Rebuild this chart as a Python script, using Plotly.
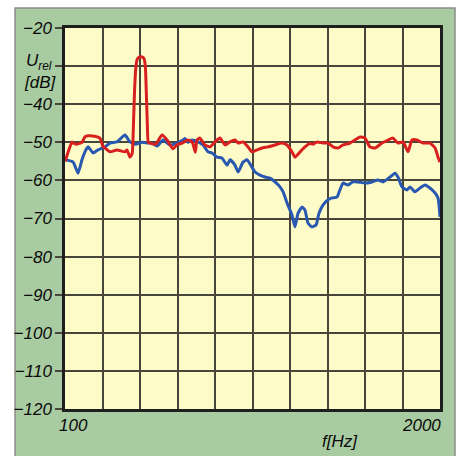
import plotly.graph_objects as go

# frequency axis (Hz) and grid
x_min, x_max = 100, 2000
y_min, y_max = -120, -20
x_step = 190
x_labels = {100: "100", 2000: "2000"}
y_ticks = [-120, -110, -100, -90, -80, -70, -60, -50, -40, -20]
y_labels = ["\u2212" + str(abs(v)) for v in y_ticks]
y_unlabeled = [-30]

red_f = [100, 110, 135, 141, 160, 186, 201, 217, 250, 277, 293, 303, 328, 363, 404, 414, 429,
         440, 447, 452, 458, 465, 475, 490, 500, 507, 512, 517, 522, 531, 560, 591, 617, 647, 667,
         693, 723, 743, 749, 760, 769, 784, 809, 835, 860, 885, 911, 936, 961, 977, 1002,
         1027, 1047, 1073, 1098, 1128, 1164, 1199, 1225, 1250, 1265, 1291, 1316, 1341, 1357,
         1377, 1407, 1433, 1458, 1483, 1509, 1544, 1569, 1595, 1620, 1645, 1671, 1706, 1737,
         1762, 1787, 1813, 1838, 1858, 1883, 1914, 1949, 1975, 1990, 2000]
red_db = [-55.0, -53.5, -49.9, -50.2, -50.5, -50.0, -48.6, -48.3, -48.4, -48.9, -51.2, -51.5,
          -52.5, -52.0, -52.5, -52.0, -53.9, -53.0, -45.0, -37.0, -31.0, -28.3, -27.7, -27.6,
          -28.0, -30.0, -37.0, -45.0, -50.0, -50.2, -50.5, -48.1, -49.4, -51.7, -50.7, -50.2, -49.4,
          -49.9, -50.5, -52.6, -49.4, -48.9, -50.7, -51.2, -49.9, -48.9, -50.7, -49.9, -49.4,
          -50.2, -49.9, -51.2, -52.5, -52.0, -51.5, -51.2, -50.7, -50.2, -50.7, -52.5, -53.9,
          -52.5, -51.2, -50.3, -50.5, -49.9, -50.2, -50.2, -51.2, -51.5, -50.7, -50.2, -49.4,
          -48.6, -48.9, -51.2, -51.5, -50.2, -49.4, -48.9, -50.2, -49.9, -52.5, -49.4, -49.4,
          -50.2, -50.2, -51.5, -53.9, -55.2]

blue_f = [100, 141, 166, 186, 201, 217, 242, 267, 303, 328, 363, 404, 429, 460, 490, 520, 541,
          566, 597, 632, 667, 698, 708, 723, 743, 774, 799, 825, 845, 870, 895, 921, 936, 961,
          977, 1002, 1022, 1047, 1063, 1088, 1113, 1139, 1164, 1189, 1205, 1225, 1250, 1265,
          1281, 1301, 1316, 1331, 1351, 1372, 1387, 1407, 1433, 1453, 1478, 1493, 1509, 1534,
          1559, 1585, 1620, 1656, 1686, 1711, 1747, 1772, 1787, 1807, 1833, 1848, 1873, 1899,
          1924, 1949, 1975, 1990, 2000]
blue_db = [-54.6, -55.2, -58.1, -54.6, -52.5, -51.2, -52.8, -52.0, -51.2, -50.2, -49.9, -48.1,
           -49.9, -50.5, -50.0, -50.2, -50.2, -51.0, -49.4, -50.7, -50.2, -49.4, -49.0, -50.0,
           -49.4, -49.9, -50.7, -52.5, -52.8, -53.9, -54.1, -56.0, -54.6, -56.0, -57.8, -55.2,
           -54.6, -56.5, -57.8, -58.6, -59.1, -59.4, -60.4, -61.7, -63.0, -65.9, -69.1, -72.2,
           -68.6, -67.0, -67.8, -71.2, -72.2, -71.7, -68.6, -66.5, -65.1, -64.6, -64.4, -62.5,
           -60.7, -61.2, -60.4, -60.4, -60.7, -60.4, -59.9, -60.4, -59.1, -58.1, -59.1, -61.7,
           -62.5, -61.7, -63.0, -62.0, -61.2, -62.0, -63.3, -64.6, -69.6]

GREEN = "#a9cba1"
YELLOW = "#fdfcc9"
GRID = "#48463a"
FONT = "Liberation Sans, Arial, sans-serif"

fig = go.Figure()
fig.add_trace(go.Scatter(x=blue_f, y=blue_db, mode="lines",
                         line=dict(color="#2858b0", width=3, shape="spline", smoothing=0.5),
                         hoverinfo="skip", showlegend=False))
fig.add_trace(go.Scatter(x=red_f, y=red_db, mode="lines",
                         line=dict(color="#d8201e", width=3, shape="spline", smoothing=0.5),
                         hoverinfo="skip", showlegend=False))

fig.update_layout(
    width=462, height=456,
    margin=dict(l=65, r=22, t=28, b=47, pad=0),
    paper_bgcolor="white",
    plot_bgcolor=YELLOW,
    showlegend=False,
    xaxis=dict(range=[x_min, x_max], tick0=x_min, dtick=x_step, showticklabels=False,
               showgrid=True, gridcolor=GRID, gridwidth=1.8, zeroline=False,
               showline=True, linecolor="#1e1e1e", linewidth=2.5, mirror=True,
               ticks="", fixedrange=True),
    yaxis=dict(range=[y_min, y_max], tickvals=y_ticks, ticktext=y_labels,
               showgrid=True, gridcolor=GRID, gridwidth=1.8, zeroline=False,
               showline=True, linecolor="#1e1e1e", linewidth=2.5, mirror=True,
               ticks="outside", ticklen=7, tickwidth=1.6, tickcolor=GRID,
               tickfont=dict(family=FONT, size=17, color="#0a0a0a", style="italic"),
               minor=dict(tickvals=y_unlabeled, showgrid=True, gridcolor=GRID, gridwidth=1.8,
                          ticks="outside", ticklen=7, tickwidth=1.6, tickcolor=GRID),
               fixedrange=True),
    shapes=[dict(type="rect", xref="paper", yref="paper", x0=-0.1333, x1=1.04,
                 y0=-0.2, y1=1.0525, fillcolor=GREEN,
                 line=dict(color="#8c8c8c", width=1.5), layer="below"),
            dict(type="rect", xref="paper", yref="paper", x0=0, x1=1, y0=0, y1=1,
                 fillcolor=YELLOW, line=dict(width=0), layer="below")],
)

def ann(text, x, y, xanchor, size=17):
    fig.add_annotation(text=text, xref="paper", yref="paper", x=x, y=y,
                       xanchor=xanchor, yanchor="middle", showarrow=False,
                       font=dict(family=FONT, size=size, color="#0a0a0a", style="italic"))

ann(x_labels[100], 0.0227, -0.042, "center")
ann(x_labels[2000], 1.008, -0.042, "right")
ann("f[Hz]", 0.733, -0.084, "center")
ann("U<sub>rel</sub>", -0.11, 0.911, "left")
ann("[dB]", -0.115, 0.858, "left")

fig.write_html("out.html", config={"displayModeBar": False},
               post_script="document.body.style.margin='0';document.body.style.overflow='hidden';")
